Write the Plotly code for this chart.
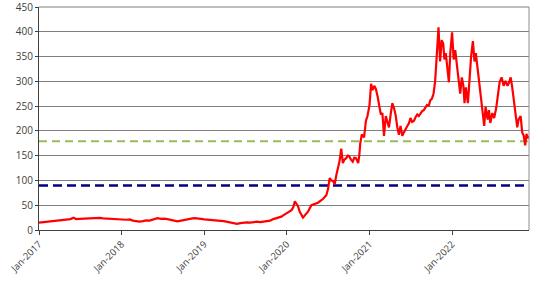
import plotly.graph_objects as go

dates = [
    "2017-01-01", "2017-01-20", "2017-02-05", "2017-02-21", "2017-03-08", "2017-03-22",
    "2017-04-05", "2017-04-20", "2017-05-05", "2017-05-20", "2017-06-02", "2017-06-14",
    "2017-06-28", "2017-07-15", "2017-08-01", "2017-08-15", "2017-08-29", "2017-09-12",
    "2017-09-27", "2017-10-12", "2017-10-28", "2017-11-12", "2017-11-26", "2017-12-08",
    "2017-12-22", "2018-01-05", "2018-01-22", "2018-02-06", "2018-02-20", "2018-03-07",
    "2018-03-21", "2018-04-05", "2018-04-20", "2018-05-04", "2018-05-20", "2018-06-09",
    "2018-06-24", "2018-07-08", "2018-07-23", "2018-08-07", "2018-08-21", "2018-09-05",
    "2018-09-27", "2018-10-19", "2018-11-05", "2018-11-20", "2018-12-02", "2018-12-18",
    "2019-01-02", "2019-01-15", "2019-01-30", "2019-02-14", "2019-02-28", "2019-03-15",
    "2019-03-29", "2019-04-12", "2019-04-28", "2019-05-12", "2019-05-26", "2019-06-10",
    "2019-06-25", "2019-07-09", "2019-07-24", "2019-08-07", "2019-08-22", "2019-09-06",
    "2019-09-20", "2019-10-05", "2019-10-20", "2019-11-03", "2019-11-20", "2019-12-08",
    "2019-12-22", "2020-01-08", "2020-01-22", "2020-01-30", "2020-02-06", "2020-02-13",
    "2020-02-20", "2020-02-27", "2020-03-06", "2020-03-13", "2020-03-22", "2020-04-04",
    "2020-04-19", "2020-05-04", "2020-05-18", "2020-06-01", "2020-06-10", "2020-06-24",
    "2020-07-02", "2020-07-09", "2020-07-16", "2020-07-24", "2020-07-31", "2020-08-07",
    "2020-08-14", "2020-08-22", "2020-08-29", "2020-09-05", "2020-09-12", "2020-09-20",
    "2020-09-27", "2020-10-03", "2020-10-11", "2020-10-19", "2020-10-26", "2020-11-02",
    "2020-11-12", "2020-11-17", "2020-11-21", "2020-11-28", "2020-12-08", "2020-12-16",
    "2020-12-23", "2021-01-01", "2021-01-08", "2021-01-15", "2021-01-22", "2021-01-29",
    "2021-02-06", "2021-02-13", "2021-02-20", "2021-02-27", "2021-03-06", "2021-03-14",
    "2021-03-21", "2021-03-28", "2021-04-05", "2021-04-12", "2021-04-19", "2021-04-26",
    "2021-05-04", "2021-05-11", "2021-05-18", "2021-05-26", "2021-06-02", "2021-06-10",
    "2021-06-17", "2021-06-24", "2021-07-01", "2021-07-08", "2021-07-16", "2021-07-24",
    "2021-07-31", "2021-08-07", "2021-08-14", "2021-08-22", "2021-08-29", "2021-09-05",
    "2021-09-12", "2021-09-20", "2021-09-27", "2021-10-04", "2021-10-11", "2021-10-18",
    "2021-10-25", "2021-11-02", "2021-11-09", "2021-11-16", "2021-11-23", "2021-11-28",
    "2021-12-04", "2021-12-12", "2021-12-18", "2021-12-24", "2022-01-01", "2022-01-08",
    "2022-01-15", "2022-01-22", "2022-01-29", "2022-02-06", "2022-02-13", "2022-02-20",
    "2022-02-25", "2022-03-03", "2022-03-12", "2022-03-18", "2022-03-26", "2022-04-03",
    "2022-04-10", "2022-04-16", "2022-04-24", "2022-05-01", "2022-05-09", "2022-05-16",
    "2022-05-23", "2022-05-29", "2022-06-07", "2022-06-13", "2022-06-19", "2022-06-28",
    "2022-07-06", "2022-07-15", "2022-07-24", "2022-07-30", "2022-08-08", "2022-08-17",
    "2022-08-25", "2022-09-03", "2022-09-10", "2022-09-17", "2022-09-23", "2022-10-02",
    "2022-10-08", "2022-10-16", "2022-10-22", "2022-10-31", "2022-11-07", "2022-11-14",
    "2022-11-20", "2022-11-26", "2022-12-01", "2022-12-06",
]

values = [
    15, 16, 17.5, 17, 19, 20,
    20.7, 21, 21.5, 22, 24.6, 22,
    22.5, 23, 22.5, 23.5, 23.3, 24,
    24.6, 23.5, 23, 22.5, 23, 22.7,
    22, 21.5, 20.7, 21.5, 19, 18,
    16.8, 18, 19.5, 19, 21, 24,
    22.5, 23, 22, 20, 19, 17.5,
    19.4, 22, 23, 24, 24, 22.5,
    21.5, 20.7, 21, 20, 19.4, 18.5,
    18, 16.8, 15, 13.5, 12.3, 14,
    15, 15.5, 15, 16, 16.8, 16,
    17, 17.5, 19, 22, 24, 27,
    31, 36, 40, 46, 58, 53,
    48, 37, 30, 25, 30, 37,
    50, 52, 55, 60, 63, 70,
    83, 105, 100, 99, 92, 110,
    125, 140, 164, 135, 142, 145,
    150, 149, 142, 138, 146, 145,
    135, 151, 175, 193, 187, 220,
    230, 252, 295, 282, 291, 285,
    269, 252, 233, 236, 190, 230,
    216, 207, 235, 256, 246, 233,
    207, 192, 210, 190, 197, 205,
    210, 215, 226, 218, 220, 228,
    233, 230, 236, 240, 242, 248,
    252, 251, 262, 265, 275, 300,
    363, 409, 340, 383, 376, 344,
    357, 321, 298, 357, 399, 344,
    363, 334, 311, 275, 308, 291,
    256, 288, 256, 298, 350, 381,
    340, 357, 324, 298, 265, 246,
    210, 249, 223, 242, 216, 236,
    226, 246, 272, 298, 308, 291,
    301, 291, 298, 308, 291, 256,
    226, 207, 223, 230, 197, 190,
    171, 194, 185, 190,
]

level_green = 179
level_navy = 90
x_start = "2017-01-01"
x_end = "2022-12-07"

tick_vals = ["2017-01-01", "2018-01-01", "2019-01-01", "2020-01-01", "2021-01-01", "2022-01-01"]
tick_text = ["Jan-2017", "Jan-2018", "Jan-2019", "Jan-2020", "Jan-2021", "Jan-2022"]
y_ticks = [0, 50, 100, 150, 200, 250, 300, 350, 400, 450]
y_text = [str(v) for v in y_ticks]

fig = go.Figure()
fig.add_trace(go.Scatter(
    x=[x_start, x_end], y=[level_green, level_green], mode="lines",
    line=dict(color="#9bbb59", width=2, dash="8px,5px"), hoverinfo="skip",
))
fig.add_trace(go.Scatter(
    x=[x_start, x_end], y=[level_navy, level_navy], mode="lines",
    line=dict(color="#000080", width=2.5, dash="9px,5px"), hoverinfo="skip",
))
fig.add_trace(go.Scatter(
    x=dates, y=values, mode="lines",
    line=dict(color="#ff0000", width=2.2),
))

fig.update_layout(
    width=545, height=282,
    margin=dict(l=34, r=16, t=7, b=46),
    paper_bgcolor="white", plot_bgcolor="white",
    showlegend=False,
    font=dict(family="Open Sans, Noto Sans, sans-serif", size=10, color="#404040"),
)
fig.update_xaxes(
    range=[x_start, x_end],
    tickmode="array", tickvals=tick_vals, ticktext=tick_text,
    tickangle=-45, ticks="outside", ticklen=4, tickcolor="#404040",
    showgrid=False, showline=True, linecolor="#404040", linewidth=1,
    zeroline=False, tickfont=dict(size=9.5, color="#404040"),
)
fig.update_yaxes(
    range=[0, 450], tickmode="array", tickvals=y_ticks, ticktext=y_text,
    ticks="outside", ticklen=3, tickcolor="#404040",
    showgrid=True, gridcolor="#7f7f7f", gridwidth=1,
    showline=True, linecolor="#404040", linewidth=1,
    zeroline=False, tickfont=dict(size=10, color="#404040"),
    ticklabeloverflow="allow", automargin=False,
)
# top gridline and right border
fig.add_shape(type="line", xref="paper", yref="paper", x0=0, x1=1, y0=1, y1=1,
              line=dict(color="#7f7f7f", width=1))
fig.add_shape(type="line", xref="paper", yref="paper", x0=1, x1=1, y0=0, y1=1,
              line=dict(color="#8c8c8c", width=1))

fig.write_html("out.html")
